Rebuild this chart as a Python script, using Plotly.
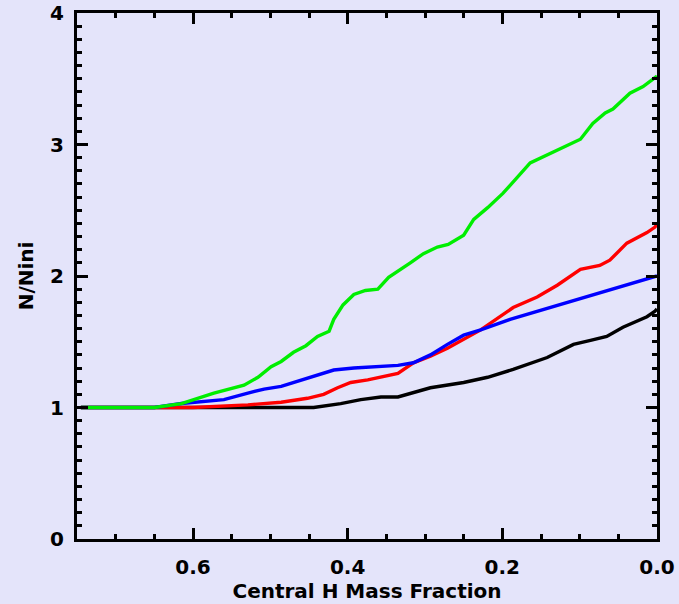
import plotly.graph_objects as go

# Central hydrogen mass fraction (decreasing with evolution) and N/Nini for four runs
x_black = [0.745, 0.70, 0.65, 0.60, 0.55, 0.50, 0.444, 0.409, 0.383, 0.357, 0.335, 0.293,
           0.250, 0.219, 0.186, 0.142, 0.108, 0.086, 0.065, 0.044, 0.013, 0.003, 0.0]
y_black = [1.00, 1.00, 1.00, 1.00, 1.00, 1.00, 1.00, 1.03, 1.06, 1.08, 1.08, 1.15,
           1.19, 1.23, 1.29, 1.38, 1.48, 1.51, 1.54, 1.61, 1.69, 1.73, 1.75]

x_red = [0.745, 0.70, 0.65, 0.60, 0.529, 0.486, 0.452, 0.431, 0.413, 0.396, 0.374, 0.357,
         0.335, 0.315, 0.293, 0.271, 0.250, 0.228, 0.186, 0.155, 0.129, 0.099, 0.074,
         0.061, 0.039, 0.013, 0.003, 0.0]
y_red = [1.00, 1.00, 1.00, 1.00, 1.02, 1.04, 1.07, 1.10, 1.15, 1.19, 1.21, 1.23,
         1.26, 1.34, 1.39, 1.45, 1.52, 1.59, 1.76, 1.84, 1.93, 2.05, 2.08,
         2.12, 2.25, 2.33, 2.37, 2.39]

x_blue = [0.745, 0.70, 0.65, 0.615, 0.560, 0.529, 0.508, 0.486, 0.465, 0.444, 0.418, 0.392,
          0.357, 0.335, 0.315, 0.293, 0.271, 0.250, 0.228, 0.190, 0.0]
y_blue = [1.00, 1.00, 1.00, 1.03, 1.06, 1.11, 1.14, 1.16, 1.20, 1.24, 1.285, 1.30,
          1.31, 1.32, 1.34, 1.40, 1.48, 1.55, 1.59, 1.67, 2.00]

x_green = [0.745, 0.70, 0.65, 0.615, 0.573, 0.534, 0.516, 0.499, 0.486, 0.470, 0.454, 0.439,
           0.424, 0.418, 0.406, 0.392, 0.377, 0.361, 0.347, 0.319, 0.302, 0.284, 0.270,
           0.250, 0.237, 0.219, 0.199, 0.164, 0.129, 0.112, 0.099, 0.083, 0.067, 0.057,
           0.035, 0.018, 0.004, 0.0]
y_green = [1.00, 1.00, 1.00, 1.03, 1.11, 1.17, 1.23, 1.31, 1.35, 1.42, 1.47, 1.54,
           1.58, 1.67, 1.78, 1.86, 1.89, 1.90, 1.99, 2.10, 2.17, 2.22, 2.24,
           2.31, 2.43, 2.52, 2.63, 2.86, 2.96, 3.01, 3.04, 3.16, 3.24, 3.27,
           3.39, 3.44, 3.50, 3.52]

x_ticks = [0.6, 0.4, 0.2, 0.0]
x_ticklabels = ["0.6", "0.4", "0.2", "0.0"]
y_ticks = [0, 1, 2, 3, 4]
y_ticklabels = ["0", "1", "2", "3", "4"]

bg = "#E4E4FA"
label_font = dict(family="DejaVu Sans", size=20, color="black", weight="bold")

fig = go.Figure()
for xs, ys, col in [(x_black, y_black, "black"), (x_red, y_red, "#FF0000"),
                    (x_blue, y_blue, "#0000FF"), (x_green, y_green, "#00EE00")]:
    fig.add_trace(go.Scatter(x=xs, y=ys, mode="lines",
                             line=dict(color=col, width=3.4), showlegend=False))

axis_common = dict(
    showline=True, linecolor="black", linewidth=3, mirror="allticks",
    ticks="inside", tickcolor="black", tickwidth=3, ticklen=11,
    showgrid=False, zeroline=False, automargin=False,
    tickfont=label_font,
)

fig.update_xaxes(
    range=[0.75, 0.0], tickvals=x_ticks, ticktext=x_ticklabels,
    minor=dict(dtick=0.05, ticklen=5, tickwidth=3, tickcolor="black", ticks="inside"),
    title=dict(text="Central H Mass Fraction", font=label_font, standoff=4),
    ticklabelstandoff=8,
    **axis_common,
)
fig.update_yaxes(
    range=[0, 4], tickvals=y_ticks, ticktext=y_ticklabels,
    minor=dict(dtick=0.1, ticklen=5, tickwidth=3, tickcolor="black", ticks="inside"),
    title=dict(text="N/Nini", font=label_font, standoff=12),
    ticklabelstandoff=6,
    **axis_common,
)

fig.update_layout(
    width=679, height=604,
    margin=dict(l=77, r=22, t=13, b=65),
    paper_bgcolor=bg, plot_bgcolor=bg,
    font=label_font,
)

fig.write_html("out.html")
